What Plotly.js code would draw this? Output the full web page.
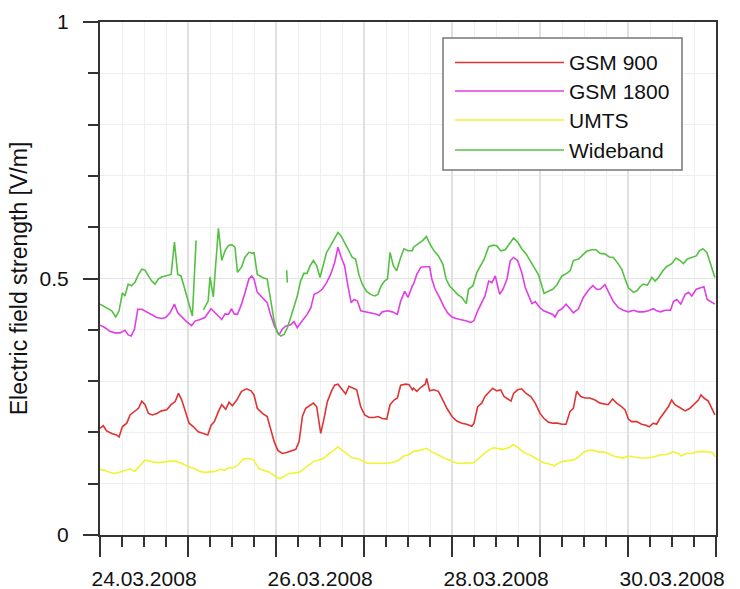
<!DOCTYPE html>
<html>
<head>
<meta charset="utf-8">
<script src="https://cdn.plot.ly/plotly-3.0.1.min.js"></script>
<style>html,body{margin:0;padding:0;background:#fff;}#chart{width:740px;height:589px;}</style>
</head>
<body>
<div id="chart"></div>
<script>
// ---- Data (hours after 24.03.2008 00:00, value in V/m) ----
const seriesNames = ['GSM 900', 'GSM 1800', 'UMTS', 'Wideband'];
const seriesColors = ['#df3434', '#e03ee6', '#f2f236', '#55c044'];
const xTickDays = ['2008-03-24','2008-03-25','2008-03-26','2008-03-27','2008-03-28','2008-03-29','2008-03-30','2008-03-31'];
const xTickText = ['24.03.2008','','26.03.2008','','28.03.2008','','30.03.2008',''];
const yTickVals = [0, 0.5, 1];
const yTickText = ['0', '0.5', '1'];
const yTitle = 'Electric field strength [V/m]';

const gsm900Hours = [0,0.9,1.8,3.2,4.5,5.2,6.1,7.3,8.2,9.5,10.5,11.4,12.3,13.2,14.3,15.5,16.8,18.2,19.4,20.5,21.4,22.3,23.2,24.3,25.5,26.8,28.2,29.4,30.3,31.2,32.3,33.2,34.3,35.2,36.1,37.3,38.6,40,41.2,
 42,42.9,44.3,45.6,46.5,47.5,48.5,49.7,50.9,52,53.4,54.3,55.2,56.1,57.3,58.2,59.1,60.2,61.1,62,63.1,64,64.9,65.8,67,67.9,69.1,70,71.1,72.2,73.4,74.7,75.8,77,78.2,79.1,80.2,81.1,82,83.4,84.3,85.2,
 85.5,86.4,87.5,88.7,89.1,89.9,91,92.3,93.5,94.6,96,97.3,98.7,100,101.4,102,103,104.1,105,106.2,107.1,108.2,109.3,110.2,111.4,112.1,112.8,113.9,115,116.2,117.5,118.7,120,121.1,122.3,123.5,124.8,126,127.1,128.2,
 129.1,130,131.1,132.3,133.6,135,136.4,137.7,138.6,139.8,140.9,142.3,143.2,144.1,145,146.4,147.7,148.9,149.8,150.9,151.8,152.7,153.8,155,155.9,156.8,158.2,159.6,160.9,162.3,163.2,163.9,164.7,165.9,166.8,167.7];
const gsm900Values = [.208,.213,.203,.198,.195,.191,.211,.218,.234,.241,.247,.261,.254,.237,.234,.237,.242,.244,.254,.26,.276,.263,.241,.218,.211,.201,.198,.195,.214,.221,.241,.254,.245,.259,.252,.263,.28,.285,.281,
 .273,.247,.237,.231,.208,.182,.165,.159,.161,.163,.167,.182,.231,.247,.252,.257,.25,.198,.227,.26,.28,.292,.294,.286,.275,.29,.286,.283,.25,.234,.229,.229,.231,.227,.226,.254,.263,.267,.292,.294,.293,.283,
 .286,.28,.288,.294,.305,.281,.283,.28,.263,.247,.231,.222,.218,.216,.212,.218,.25,.257,.27,.28,.286,.281,.283,.27,.265,.261,.276,.283,.285,.276,.27,.257,.237,.227,.22,.218,.218,.216,.216,.241,
 .247,.28,.27,.267,.267,.263,.257,.255,.254,.265,.257,.25,.244,.226,.221,.221,.216,.214,.211,.218,.216,.227,.237,.25,.263,.254,.248,.242,.247,.257,.263,.273,.267,.261,.247,.234];

const gsm1800Hours = [0,1.4,2.7,4.1,5.5,6.8,7.7,8.5,9.4,10.3,11.4,12.7,14.1,15.5,16.8,17.9,19.1,20.3,21.2,22.3,23.6,25,25.9,27.3,28.6,30.3,31.4,32.5,33.2,34.1,35,35.9,36.6,37.5,38.6,39.7,40.6,41.4,
 42,42.9,44.3,45.6,46.5,47.6,48.8,49.7,50.6,52,52.9,53.8,55.2,56.5,57.5,58.4,59.5,60.6,61.8,62.9,64,64.9,65.8,66.7,67.6,68.5,69.3,70.2,71.1,72.5,73.8,75.2,76.1,77,78.4,79.7,81.1,82,83.1,84,85.2,
 85.5,86.4,87.5,88.7,89.9,90.5,91.4,92.6,93.7,94.8,96,97.1,98.7,100,101.1,102,103,104.1,105,106,106.9,107.8,109,109.9,111,111.9,112.8,113.9,115,116,116.9,117.8,118.7,119.9,121,122.3,123.5,124.1,125,126,127.1,128.2,
 129.1,130.5,131.8,133.2,134.4,135.5,136.4,137.7,138.9,140,141.4,142.7,144.1,145.5,146.8,148.2,149.6,150.9,151.8,152.9,154.1,155.6,156.4,157.3,158.4,159.6,160.5,161.4,162.6,163.6,164.7,165.6,166.8,167.7];
const gsm1800Values = [.409,.404,.397,.394,.394,.399,.39,.388,.401,.44,.44,.435,.431,.424,.422,.424,.433,.45,.433,.425,.416,.408,.417,.42,.424,.441,.433,.427,.42,.431,.43,.441,.431,.43,.45,.476,.499,.505,
 .499,.473,.463,.453,.43,.407,.39,.401,.407,.41,.416,.404,.418,.43,.443,.469,.473,.479,.492,.508,.531,.561,.541,.525,.486,.453,.459,.456,.437,.435,.433,.431,.428,.435,.437,.435,.43,.456,.475,.463,.486,
 .489,.508,.522,.523,.523,.499,.479,.463,.446,.433,.425,.422,.42,.417,.414,.418,.437,.453,.466,.495,.492,.505,.469,.479,.499,.535,.541,.535,.512,.482,.466,.451,.455,.444,.437,.433,.43,.425,.437,.441,.45,.441,
 .433,.441,.463,.477,.486,.479,.479,.488,.469,.455,.443,.438,.435,.438,.435,.435,.437,.441,.437,.435,.438,.438,.455,.459,.45,.469,.473,.466,.479,.482,.484,.459,.453,.45];

const umtsHours = [0,1.4,2.7,4.1,5.5,6.8,8.2,9.4,10.5,12.3,13.6,15.5,17.3,19.1,20.5,22.3,24.1,25.9,27.3,28.6,30,31.4,32.7,34.1,35,36.4,37.7,39.1,40.5,41.8,
 43.4,44.7,46.1,47.5,48.8,50.2,51.5,52.9,54.3,55.6,57,58.4,59.7,61.1,62.5,63.8,64.9,66.1,67.5,68.8,70.2,71.5,72.9,74.7,76.5,78.4,80.2,81.5,82.9,84.3,
 85.5,87.3,89.1,90.5,92.3,94.1,96,97.3,99.1,101,102,103.7,105.5,107.3,108.7,110,111.4,112.8,114.1,115.5,117.3,119.1,121,122.3,123.9,125.5,127.3,
 129.1,130.5,131.8,133.2,134.5,135.9,137.3,138.6,140,141.4,142.7,144.1,145.5,147.3,149.1,150.9,152.7,154.5,156.4,157.7,158.6,159.8,161.4,162.7,164.6,165.9,167.1,167.7];
const umtsValues = [.128,.126,.122,.12,.123,.126,.129,.124,.133,.146,.144,.141,.142,.144,.144,.14,.133,.129,.124,.122,.123,.124,.128,.126,.131,.131,.137,.148,.149,.147,
 .129,.126,.123,.116,.11,.114,.12,.121,.122,.129,.136,.144,.146,.15,.159,.165,.172,.165,.157,.15,.149,.144,.14,.14,.14,.14,.142,.146,.154,.157,
 .163,.165,.169,.162,.156,.149,.144,.14,.14,.14,.141,.152,.163,.17,.169,.167,.17,.176,.17,.161,.156,.149,.141,.139,.135,.142,.145,
 .146,.152,.161,.165,.165,.162,.162,.159,.154,.152,.15,.154,.152,.15,.15,.152,.156,.157,.162,.159,.154,.159,.159,.162,.163,.162,.161,.152];

// null entries are gaps in the wideband record
const widebandHours = [0,0.9,2.3,3.2,4.3,5.2,6.1,6.8,7.7,8.6,9.5,10.5,11.4,12.3,13.2,14.1,15,15.9,16.8,18.2,19.4,20.3,21.2,22.1,23,24.1,25.2,26.2,27.3,
 28.2,29.5,30,30.9,32.3,33.2,34.1,35,35.9,36.8,37.5,38.6,39.5,40.6,41.8,
 42,42.9,44.3,45.6,46.5,47.5,48.4,49.3,50.2,51.1,52,52.9,53.8,54.7,55.6,56.5,57.3,58.2,59.1,60,60.9,61.8,62.9,64,64.9,65.8,66.7,67.6,68.8,69.7,70.6,71.5,72.7,73.8,74.9,75.8,76.7,77.6,78.4,79.1,80,80.9,82,82.9,84,85.2,
 85.5,86.9,88,89,90,91.1,92.3,93.5,94.4,95.3,96.4,97.5,98.7,99.9,100.5,101.7,102.8,103.7,104.8,106,107.3,108.2,109.3,110.5,111.7,112.8,113.9,115,116.2,117.3,118.4,119.6,120.5,121.1,122.3,123.5,124.6,126,127.3,128.3,
 129.1,130.5,131.4,132.7,134.1,135.3,136.4,137.7,138.9,140,141.1,142.3,143.2,144.1,145.5,146.4,147.3,148.2,149.3,150.5,151.4,152.3,153.5,154.5,155.9,157.1,158.2,159.1,160.2,161.4,162.6,163.5,164.4,165.5,166.4,167.7,
 51.0,50.9,51.1];
const widebandValues = [.45,.446,.44,.437,.425,.437,.472,.466,.489,.486,.492,.508,.518,.516,.505,.495,.489,.499,.503,.505,.508,.571,.508,.505,.482,.45,.427,.574,null,
 .439,.456,.503,.464,.598,.535,.554,.564,.566,.561,.512,.522,.541,.551,.549,
 .551,.508,.502,.499,.456,.417,.394,.388,.391,.404,.424,.443,.466,.495,.51,.51,.525,.535,.525,.502,.525,.551,.564,.577,.59,.582,.571,.558,.541,.538,.508,.489,.475,.469,.466,.469,.486,.495,.499,.551,.525,.515,.541,.558,.554,.554,
 .561,.569,.574,.582,.567,.554,.544,.528,.499,.486,.477,.469,.463,.451,.479,.486,.512,.525,.538,.562,.565,.564,.554,.556,.569,.579,.571,.558,.548,.535,.522,.507,.486,.471,.475,.479,.488,.505,.51,.516,
 .535,.538,.544,.553,.556,.556,.549,.548,.542,.541,.531,.518,.499,.482,.473,.476,.484,.489,.487,.502,.495,.502,.515,.523,.529,.54,.535,.529,.538,.541,.544,.554,.558,.551,.531,.502,
 null,.516,.492];

// ---- Build chart ----
const T0 = Date.UTC(2008, 2, 24);
const toTime = h => T0 + h * 3600000;
const hoursList = [gsm900Hours, gsm1800Hours, umtsHours, widebandHours];
const valuesList = [gsm900Values, gsm1800Values, umtsValues, widebandValues];

const traces = seriesNames.map((name, i) => ({
  type: 'scatter', mode: 'lines', name: name,
  x: hoursList[i].map(toTime), y: valuesList[i],
  line: {color: seriesColors[i], width: 1.6},
  connectgaps: false, hoverinfo: 'skip'
}));

const fontFam = '"Liberation Sans", Arial, sans-serif';
const W = 616, H = 513, L = 100, T = 22;
const px = x => (x - L) / W;
const py = y => (T + H - y) / H;

// legend drawn as shapes + text
const legRows = [62.5, 91, 120, 150];
const shapes = [{type:'rect', xref:'paper', yref:'paper', x0:px(443), x1:px(682), y0:py(170), y1:py(38),
  line:{color:'#777', width:1.5}, fillcolor:'#fff', layer:'above'}];
const annotations = [];
seriesNames.forEach((name, i) => {
  shapes.push({type:'line', xref:'paper', yref:'paper', x0:px(455), x1:px(564), y0:py(legRows[i]), y1:py(legRows[i]),
    line:{color: seriesColors[i], width:1.6}, layer:'above'});
  annotations.push({xref:'paper', yref:'paper', x:px(567), y:py(legRows[i]), text:name, showarrow:false,
    xanchor:'left', yanchor:'middle', font:{family:fontFam, size:21, color:'#111'}});
});

const layout = {
  width: 740, height: 589,
  margin: {l: L, r: 740 - L - W, t: T, b: 589 - T - H},
  paper_bgcolor: '#fff', plot_bgcolor: '#fff',
  showlegend: false,
  font: {family: fontFam, size: 21, color: '#111'},
  xaxis: {
    type: 'date', range: [xTickDays[0], xTickDays[7]],
    tickmode: 'array', tickvals: xTickDays, ticktext: xTickText,
    ticks: 'outside', ticklen: 20, tickwidth: 2, tickcolor: '#333',
    ticklabelshift: 44, ticklabelstandoff: 4,
    showgrid: true, gridcolor: '#e0e0e0', gridwidth: 1.5,
    showline: true, linecolor: '#333', linewidth: 2, mirror: true,
    zeroline: false,
    tickfont: {family: fontFam, size: 21, color: '#111'},
    minor: {dtick: 6 * 3600000, tick0: xTickDays[0], ticks: 'outside', ticklen: 10, tickwidth: 2, tickcolor: '#333',
            showgrid: true, gridcolor: '#efefef', gridwidth: 1}
  },
  yaxis: {
    range: [0, 1],
    tickmode: 'array', tickvals: yTickVals, ticktext: yTickText,
    ticks: 'outside', ticklen: 15, tickwidth: 2, tickcolor: '#333',
    ticklabelstandoff: 10,
    showgrid: true, gridcolor: '#e2e2e2', gridwidth: 1.5,
    showline: true, linecolor: '#333', linewidth: 2, mirror: true,
    zeroline: false,
    tickfont: {family: fontFam, size: 21, color: '#111'},
    title: {text: yTitle, font: {family: fontFam, size: 23, color: '#111'}, standoff: 6},
    minor: {dtick: 0.1, tick0: 0, ticks: 'outside', ticklen: 10, tickwidth: 2, tickcolor: '#333',
            showgrid: true, gridcolor: '#eeeeee', gridwidth: 1}
  },
  shapes: shapes,
  annotations: annotations
};

Plotly.newPlot('chart', traces, layout, {displayModeBar: false, staticPlot: true});
</script>
</body>
</html>
